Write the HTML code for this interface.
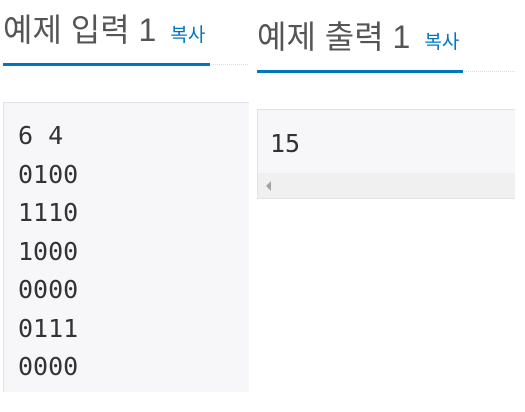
<!DOCTYPE html>
<html><head><meta charset="utf-8"><style>
body{margin:0;width:525px;height:412px;background:#fff;overflow:hidden;position:relative;font-family:"Liberation Sans","Noto Sans CJK KR",sans-serif}
.t{position:absolute;font-size:32px;color:#555;white-space:nowrap;line-height:1}
.t span{font-size:19px;color:#0076c0;margin-left:14px}
.ul{position:absolute;height:3px;background:#0076c0}
.dot{position:absolute;border-top:1px dotted #ddd;height:0}
.box{position:absolute;background:#f7f7f9;border:1px solid #e1e1e8;border-right:none;border-bottom:none;box-sizing:border-box;font-family:"DejaVu Sans Mono",monospace;font-size:25px;color:#333}
</style></head><body>
<div class="t" style="left:3px;top:14px">예제 입력 1<span>복사</span></div>
<div class="dot" style="left:3px;top:64px;width:245px"></div>
<div class="ul" style="left:3px;top:63px;width:207px"></div>
<div class="box" style="left:3px;top:102px;width:246px;height:290px;padding:14px 0 0 14px;line-height:38.5px">6 4<br>0100<br>1110<br>1000<br>0000<br>0111<br>0000</div>
<div class="t" style="left:257px;top:21px">예제 출력 1<span>복사</span></div>
<div class="dot" style="left:257px;top:71px;width:258px"></div>
<div class="ul" style="left:257px;top:70px;width:206px"></div>
<div class="box" style="left:257px;top:109px;width:258px;height:90px;border-bottom:1px solid #e1e1e8">
<div style="position:absolute;left:12px;top:19px">15</div>
<div style="position:absolute;left:0;right:0;top:63px;height:25px;background:#f0f0f0">
<div style="position:absolute;left:8px;top:8px;width:0;height:0;border-top:5px solid transparent;border-bottom:5px solid transparent;border-right:5px solid #a3a3a3"></div></div>
</div>
</body></html>
